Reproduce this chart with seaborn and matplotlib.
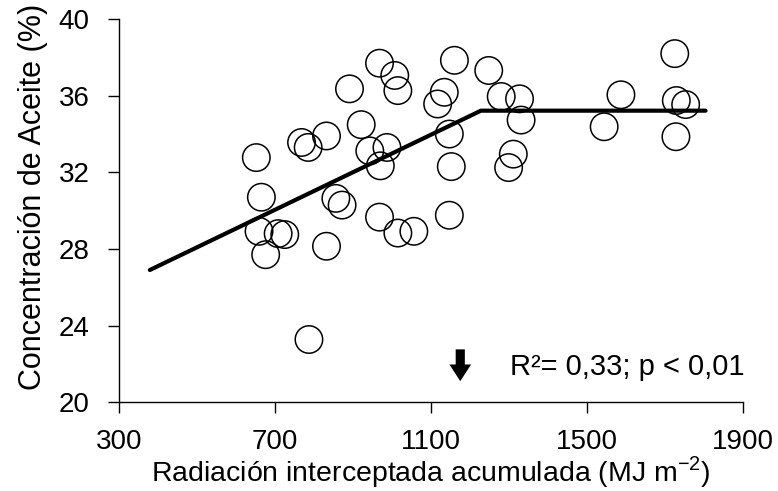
import matplotlib
matplotlib.use("Agg")
import matplotlib.pyplot as plt
import seaborn as sns
import pandas as pd

radiacion = [968, 1007, 1015, 891, 1160, 1134, 1117, 921, 1147, 1152, 1147,
             652, 768, 785, 832, 943, 987, 970, 665, 856, 872, 968, 1015,
             1056, 659, 708, 725, 676, 832, 787, 1248, 1280, 1327, 1331,
             1311, 1299, 1587, 1544, 1725, 1729, 1753, 1728]
aceite = [37.7, 37.06, 36.27, 36.36, 37.85, 36.18, 35.57, 34.49, 34.0, 32.3,
          29.76, 32.77, 33.56, 33.3, 33.9, 33.12, 33.3, 32.34, 30.7, 30.64,
          30.29, 29.66, 28.83, 28.92, 28.92, 28.8, 28.75, 27.7, 28.14, 23.27,
          37.32, 35.96, 35.84, 34.73, 32.95, 32.25, 36.05, 34.38, 38.2, 35.75,
          35.54, 33.86]

modelo_x = [379, 1228, 1804]
modelo_y = [26.9, 35.22, 35.22]

flecha_x = 1175
flecha_y = [22.9, 20.95]

xticks = [300, 700, 1100, 1500, 1900]
yticks = [20, 24, 28, 32, 36, 40]

sns.set_theme(style="ticks")
plt.rcParams['font.family'] = ['Liberation Sans', 'DejaVu Sans']

df = pd.DataFrame({"x": radiacion, "y": aceite})
dm = pd.DataFrame({"x": modelo_x, "y": modelo_y})

fig = plt.figure(figsize=(7.78, 4.91), dpi=100)
ax = fig.add_axes([0.153, 0.181, 0.802, 0.780])

sns.scatterplot(data=df, x="x", y="y", ax=ax, s=390, facecolor="none",
                edgecolor="black", linewidth=1.1, zorder=3)
sns.lineplot(data=dm, x="x", y="y", ax=ax, color="black", linewidth=3,
             zorder=4, sort=False)

ax.annotate("", xy=(flecha_x, flecha_y[1]), xytext=(flecha_x, flecha_y[0]),
            arrowprops=dict(arrowstyle="simple,head_width=1.3,head_length=1.0,tail_width=0.55",
                            color="black", lw=0))
ax.text(1303, 21.85, "R²= 0,33; p < 0,01", fontsize=21, va="center",
        ha="left", color="black")

ax.set_xlim(300, 1900)
ax.set_ylim(20, 40)
ax.set_xticks(xticks)
ax.set_yticks(yticks)
ax.tick_params(axis="both", labelsize=20, length=8, width=1, colors="black",
               direction="out")
ax.tick_params(axis="x", pad=11)
ax.tick_params(axis="y", pad=13)
for s in ["left", "bottom"]:
    ax.spines[s].set_linewidth(1)
    ax.spines[s].set_color("black")
sns.despine(ax=ax)

ax.set_xlabel("Radiación interceptada acumulada (MJ m$^{\\mathregular{-2}}$)", fontsize=20.5,
              color="black", labelpad=0)
ax.set_ylabel("Concentración de Aceite (%)", fontsize=22, color="black",
              labelpad=11)
ax.yaxis.set_label_coords(-0.114, 0.535)

fig.savefig("out.png", dpi=100)
